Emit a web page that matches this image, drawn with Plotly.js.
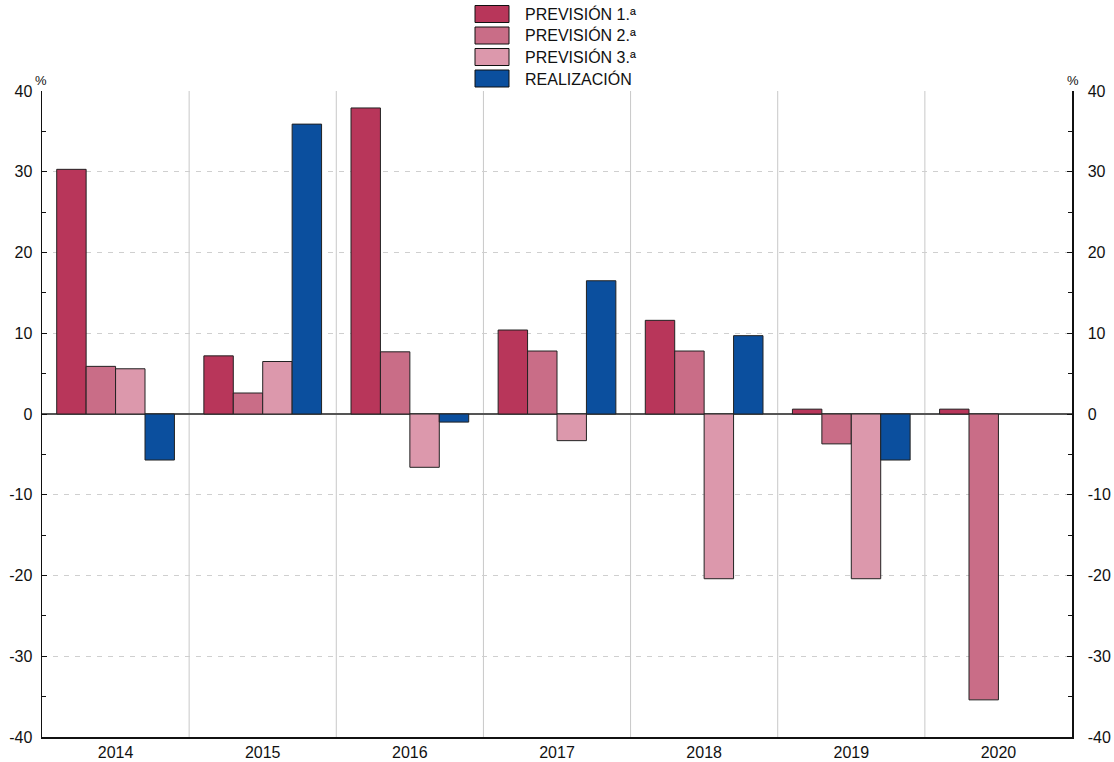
<!DOCTYPE html>
<html>
<head>
<meta charset="utf-8">
<script src="https://cdn.plot.ly/plotly-3.0.1.min.js"></script>
<style>html,body{margin:0;padding:0;background:#fff;}#chart{width:1114px;height:762px;}</style>
</head>
<body>
<div id="chart"></div>
<script>
const years = ['2014','2015','2016','2017','2018','2019','2020'];
const prevision1 = [30.3, 7.2, 37.9, 10.4, 11.6, 0.6, 0.6];
const prevision2 = [5.9, 2.6, 7.7, 7.8, 7.8, -3.7, -35.4];
const prevision3 = [5.6, 6.5, -6.6, -3.3, -20.4, -20.4, null];
const realizacion = [-5.7, 35.9, -1.0, 16.5, 9.7, -5.7, null];
const seriesNames = ['PREVISIÓN 1.ª', 'PREVISIÓN 2.ª', 'PREVISIÓN 3.ª', 'REALIZACIÓN'];
const yTicks = [-40, -30, -20, -10, 0, 10, 20, 30, 40];
const yTickText = yTicks.map(v => String(v));

const colors = ['#b8365a', '#c96d87', '#dc98ac', '#0b4f9e'];
const seriesData = [prevision1, prevision2, prevision3, realizacion];
const FONT = 'Liberation Sans, Arial, sans-serif';

const traces = seriesData.map((vals, i) => ({
  type: 'bar', x: years, y: vals, name: seriesNames[i],
  marker: {color: colors[i], line: {color: '#222', width: 1}},
  showlegend: false, hoverinfo: 'x+y+name'
}));
traces.push({type: 'scatter', x: [years[0]], y: [null], yaxis: 'y2', showlegend: false, hoverinfo: 'skip', mode: 'markers'});

const shapes = [];
for (let i = 0; i < years.length - 1; i++) {
  shapes.push({type: 'line', xref: 'x', yref: 'paper', x0: i + 0.5, x1: i + 0.5, y0: 0, y1: 1,
    line: {color: '#c8c8c8', width: 1}, layer: 'below'});
}
const annotations = [];
// custom legend
seriesNames.forEach((n, i) => {
  const yc = 14 + i * 21.5;
  shapes.push({type: 'rect', xref: 'paper', yref: 'paper',
    x0: (475 - 42) / 1030, x1: (509 - 42) / 1030,
    y0: (737 - (yc - 8.5)) / 646, y1: (737 - (yc + 8.5)) / 646,
    fillcolor: colors[i], line: {color: '#111', width: 1}});
  annotations.push({xref: 'paper', yref: 'paper', x: (523 - 42) / 1030, y: (737 - yc) / 646,
    xanchor: 'left', yanchor: 'middle', text: n, showarrow: false,
    font: {family: FONT, size: 16, color: '#111'}});
});
annotations.push({xref: 'paper', yref: 'paper', x: (41 - 42) / 1030, y: (737 - 80) / 646, text: '%',
  showarrow: false, xanchor: 'center', yanchor: 'middle', font: {family: FONT, size: 13, color: '#111'}});
annotations.push({xref: 'paper', yref: 'paper', x: (1073 - 42) / 1030, y: (737 - 80) / 646, text: '%',
  showarrow: false, xanchor: 'center', yanchor: 'middle', font: {family: FONT, size: 13, color: '#111'}});

const yCommon = {
  range: [-40, 40], tickvals: yTicks, ticktext: yTickText, ticks: 'inside', ticklen: 5, tickcolor: '#111',
  showline: true, linecolor: '#111', linewidth: 1.5,
  tickfont: {family: FONT, size: 16, color: '#111'},
  minor: {dtick: 5, tick0: 0, ticks: 'inside', ticklen: 4, tickcolor: '#111', showgrid: false},
  fixedrange: true
};

const layout = {
  width: 1114, height: 762,
  margin: {l: 42, r: 42, t: 91, b: 25},
  paper_bgcolor: '#fff', plot_bgcolor: '#fff',
  barmode: 'group', bargap: 0.2, bargroupgap: 0,
  showlegend: false,
  xaxis: {type: 'category', categoryorder: 'array', categoryarray: years,
    showline: true, linecolor: '#111', linewidth: 1.5, ticks: '', showgrid: false,
    tickfont: {family: FONT, size: 16, color: '#111'}, fixedrange: true},
  yaxis: Object.assign({}, yCommon, {side: 'left', showgrid: true, gridcolor: '#cfcfcf',
    griddash: '5px,6px', gridwidth: 1, zeroline: true, zerolinecolor: '#555', zerolinewidth: 1.5,
    ticklabelstandoff: 5}),
  yaxis2: Object.assign({}, yCommon, {side: 'right', overlaying: 'y', showgrid: false, zeroline: false,
    ticklabelstandoff: 11}),
  shapes: shapes, annotations: annotations
};

Plotly.newPlot('chart', traces, layout, {displayModeBar: false, staticPlot: true});
</script>
</body>
</html>
